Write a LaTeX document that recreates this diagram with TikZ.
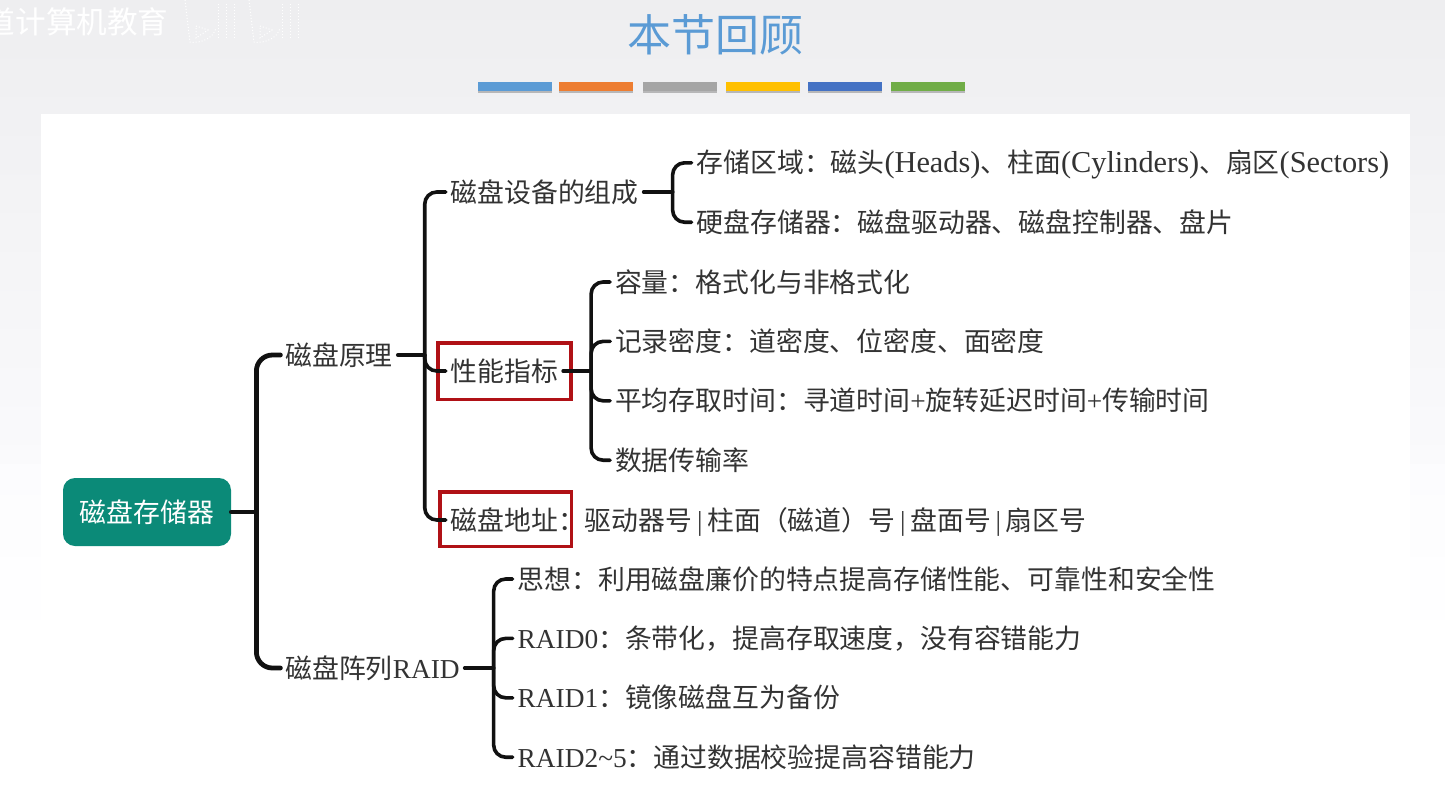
\documentclass[tikz,border=0pt]{standalone}
\usepackage{fontspec}
\setmainfont{Noto Sans CJK SC}
\newfontfamily\enfont[Scale=1.13]{Liberation Serif}
\newfontfamily\capfont[Scale=1.02]{Liberation Serif}
\newcommand{\en}[1]{{\enfont #1}}
\newcommand{\cp}[1]{{\capfont #1}}
\newcommand{\sepbar}{\hspace{2.4pt}\cp{|}\hspace{2.4pt}}
\usetikzlibrary{positioning, fit, shadows}
\definecolor{titleblue}{HTML}{5B9BD5}
\definecolor{rootteal}{HTML}{0B8A78}
\definecolor{boxred}{HTML}{B01116}
\definecolor{inkgray}{HTML}{333333}
\definecolor{wireblack}{HTML}{111111}
\definecolor{bgtop}{HTML}{EEEEF0}
\definecolor{bgmid}{HTML}{FAFAFC}
\definecolor{bglow}{HTML}{FCFCFE}

\begin{document}
\begin{tikzpicture}[font=\fontsize{13.42pt}{16pt}\selectfont, node distance=0pt]
    \tikzset{
      leaf/.style={anchor=west, inner sep=0pt, outer xsep=2.5pt, text=inkgray, text height=11.5pt, text depth=1.5pt},
      nextrow/.style={below=29.7pt of #1.west, anchor=west},
      rootbox/.style={fill=rootteal, text=white, rounded corners=6pt, minimum width=84pt, minimum height=34pt, inner sep=0pt},
      wire/.style={draw=wireblack, line width=1.8pt, line cap=round, rounded corners=6pt},
      trunk/.style={wire, line width=2.4pt, rounded corners=8pt},
      redbox/.style={draw=boxred, line width=1.9pt, inner xsep=4pt, inner ysep=7.5pt},
      logoline/.style={draw=white, line width=.5pt, densely dotted},
      colorbar/.style={minimum width=37pt, minimum height=4.2pt, inner sep=0pt, drop shadow={shadow xshift=0pt, shadow yshift=-1.2pt, opacity=.5}}
    }
    \useasboundingbox (0,0) rectangle (722.5pt,-404pt);
    % background and panel
    \fill[white] (0,0) rectangle (722.5pt,-404pt);
    \shade[top color=bgtop, bottom color=bgmid] (0,0) rectangle (722.5pt,-232pt);
    \shade[top color=bglow, bottom color=white] (0,-232pt) rectangle (722.5pt,-325pt);
    \fill[white] (20.5pt,-57pt) rectangle (705pt,-404pt);
    \clip (0,0) rectangle (722.5pt,-404pt);
    % header
    \node[text=white, anchor=east, inner sep=0pt, font=\fontsize{15.3pt}{17pt}\selectfont] (brand) at (84.5pt,-11pt) {道计算机教育};
    \foreach \x in {0, 32} {
      \draw[logoline, xshift=\x pt] (92.5pt,0pt) -- (95pt,-21pt) .. controls (100pt,-22pt) and (107pt,-19pt) .. (108pt,-14pt);
      \draw[logoline, xshift=\x pt] (98pt,-13pt) -- (104pt,-15pt) -- (98pt,-19pt) -- cycle;
    }
    \foreach \x in {109, 113, 117, 141, 145, 149} \draw[logoline] (\x pt,-2pt) -- (\x pt,-20pt);
    \node[text=titleblue, font=\fontsize{22pt}{24pt}\selectfont] (title) at (357.5pt,-17.5pt) {本节回顾};
    \foreach \i/\x/\c in {1/257.5/5B9BD5, 2/298/ED7D31, 3/340/A5A5A5, 4/381.5/FFC000, 5/422.5/4472C4, 6/464/70AD47} {
      \definecolor{barcolor}{HTML}{\c}
      \node[colorbar, fill=barcolor] (bar\i) at (\x pt,-43.2pt) {};
    }
    % tree
    \node[rootbox] (root) at (73.5pt,-256pt) {磁盘存储器};
    \node[leaf] (yuanli) at ([shift={(24.5pt,78.5pt)}]root.east) {磁盘原理};
    \node[leaf] (raid) at ([shift={(24.5pt,-78pt)}]root.east) {磁盘阵列\cp{RAID}};
    \coordinate[right=12.5pt of root.east] (forkroot);

    \node[leaf] (shebei) at ([shift={(24pt,81.5pt)}]yuanli.east) {磁盘设备的组成};
    \node[leaf] (xingneng) at ([shift={(24pt,-8pt)}]yuanli.east) {性能指标};
    \node[leaf] (dizhi) at ([shift={(24pt,-82.5pt)}]yuanli.east) {磁盘地址：};
    \node[leaf, right=-5pt of dizhi] (dizhitext) {驱动器号\sepbar 柱面（磁道）号\sepbar 盘面号\sepbar 扇区号};
    \coordinate[right=13.5pt of yuanli.east] (forkyuanli);
    \node[redbox, fit=(xingneng)] (xingnengbox) {};
    \draw[redbox] ([shift={(-3pt,7.5pt)}]dizhi.north west) rectangle ([shift={(-9.25pt,-6.5pt)}]dizhi.south east);

    \node[leaf] (quyu) at ([shift={(24pt,14.6pt)}]shebei.east) {存储区域：磁头\en{(Heads)}、柱面\en{(Cylinders)}、扇区\en{(Sectors)}};
    \node[leaf, nextrow=quyu] (yingpan) {硬盘存储器：磁盘驱动器、磁盘控制器、盘片};
    \coordinate[right=14.5pt of shebei.east] (forkshebei);

    \node[leaf] (rongliang) at ([shift={(23.5pt,44.5pt)}]xingneng.east) {容量：格式化与非格式化};
    \node[leaf, nextrow=rongliang] (midu) {记录密度：道密度、位密度、面密度};
    \node[leaf, nextrow=midu] (shijian) {平均存取时间：寻道时间\cp{+}旋转延迟时间\cp{+}传输时间};
    \node[leaf, nextrow=shijian] (shulv) {数据传输率};
    \coordinate[right=14pt of xingneng.east] (forkxingneng);

    \node[leaf] (sixiang) at ([shift={(24pt,44.5pt)}]raid.east) {思想：利用磁盘廉价的特点提高存储性能、可靠性和安全性};
    \node[leaf, nextrow=sixiang] (raid0) {\cp{RAID0}：条带化，提高存取速度，没有容错能力};
    \node[leaf, nextrow=raid0] (raid1) {\cp{RAID1}：镜像磁盘互为备份};
    \node[leaf, nextrow=raid1] (raid2) {\cp{RAID2\textasciitilde5}：通过数据校验提高容错能力};
    \coordinate[right=14.5pt of raid.east] (forkraid);

    % connectors
    \draw[trunk] (root.east) -- (forkroot);
    \foreach \c in {yuanli, raid} \draw[trunk] (forkroot) |- (\c.west);
    \draw[wire] (yuanli.east) -- (forkyuanli);
    \foreach \c in {shebei, xingneng, dizhi} \draw[wire] (forkyuanli) |- (\c.west);
    \draw[wire] (shebei.east) -- (forkshebei);
    \foreach \c in {quyu, yingpan} \draw[wire] (forkshebei) |- (\c.west);
    \draw[wire] (xingneng.east) -- (forkxingneng);
    \foreach \c in {rongliang, midu, shijian, shulv} \draw[wire] (forkxingneng) |- (\c.west);
    \draw[wire] (raid.east) -- (forkraid);
    \foreach \c in {sixiang, raid0, raid1, raid2} \draw[wire] (forkraid) |- (\c.west);
  \end{tikzpicture}
\end{document}
